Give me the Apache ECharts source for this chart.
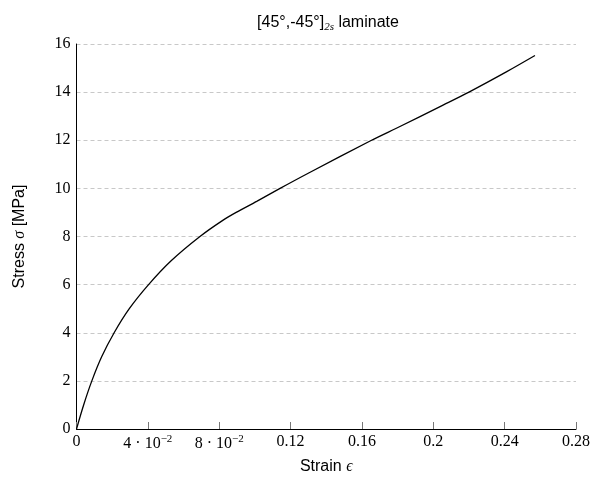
<!DOCTYPE html>
<html>
<head>
<meta charset="utf-8">
<script src="https://cdn.jsdelivr.net/npm/echarts@6/dist/echarts.min.js"></script>
<style>
  html, body { margin: 0; padding: 0; background: #fff; }
  #chart { width: 591px; height: 480px; }
</style>
</head>
<body>
<div id="chart"></div>
<script>
// Stress–strain response of a [45°,-45°]2s laminate
const strain = [0, 0.0040, 0.0086, 0.0141, 0.0211, 0.0296, 0.0404, 0.0532, 0.0692, 0.0822,
                0.0895, 0.1010, 0.1141, 0.1299, 0.1654, 0.1813, 0.2038, 0.2200, 0.2412, 0.2570];
const stress = [0, 1.0, 2, 3, 4, 5, 6, 7, 8, 8.68,
                9, 9.46, 10, 10.63, 12, 12.57, 13.40, 14, 14.85, 15.52];

// Axis tick labels (rich-text markup for the exponent notation)
const xTickLabels = ['0', '{m|4 · 10}{sup|−2}', '{m|8 · 10}{sup|−2}', '0.12', '0.16', '0.2', '0.24', '0.28'];
const yTickLabels = ['0', '2', '4', '6', '8', '10', '12', '14', '16'];

const serif = "'Liberation Serif', 'DejaVu Serif', serif";
const sans = "'Liberation Sans', Arial, sans-serif";

const chart = echarts.init(document.getElementById('chart'), null, { renderer: 'canvas' });

chart.setOption({
  animation: false,
  backgroundColor: '#ffffff',
  title: {
    text: '[45°,-45°]{sub|2s} laminate',
    left: 323,
    textAlign: 'center',
    top: 8,
    textStyle: {
      fontFamily: sans,
      fontSize: 16,
      fontWeight: 'normal',
      color: '#000',
      rich: {
        sub: { fontFamily: serif, fontStyle: 'italic', fontSize: 11, verticalAlign: 'bottom', padding: [9, 0, 0, 0] }
      }
    }
  },
  grid: { left: 76.5, right: 15, top: 44, bottom: 51, containLabel: false, outerBoundsMode: 'none' },
  xAxis: {
    type: 'value',
    min: 0,
    max: 0.28,
    interval: 0.04,
    name: 'Strain {e|ϵ}',
    nameLocation: 'middle',
    nameGap: 30,
    nameTextStyle: {
      fontFamily: sans, fontSize: 16, color: '#000',
      rich: { e: { fontFamily: serif, fontStyle: 'italic', fontSize: 16 } }
    },
    axisLine: { show: true, lineStyle: { color: '#000', width: 1 } },
    axisTick: { show: true, inside: true, length: 7, lineStyle: { color: '#777', width: 1 } },
    splitLine: { show: false },
    axisLabel: {
      margin: 5,
      fontFamily: serif,
      fontSize: 16,
      color: '#000',
      showMaxLabel: true,
      hideOverlap: false,
      formatter: function (v, i) { return xTickLabels[i]; },
      rich: {
        m: { fontFamily: serif, fontSize: 16, color: '#000' },
        sup: { fontFamily: serif, fontSize: 11, color: '#000', verticalAlign: 'top', padding: [0, 0, 8, 0] }
      }
    }
  },
  yAxis: {
    type: 'value',
    min: 0,
    max: 16,
    interval: 2,
    name: 'Stress {s|σ} [MPa]',
    nameLocation: 'middle',
    nameRotate: 90,
    nameGap: 49,
    nameTextStyle: {
      fontFamily: sans, fontSize: 16, color: '#000',
      rich: { s: { fontFamily: serif, fontStyle: 'italic', fontSize: 16 } }
    },
    axisLine: { show: true, lineStyle: { color: '#000', width: 1 } },
    axisTick: { show: false },
    splitLine: { show: true, lineStyle: { color: '#c8c8c8', width: 1, type: [4, 3] } },
    axisLabel: {
      margin: 6,
      fontFamily: serif,
      fontSize: 16,
      color: '#000',
      formatter: function (v, i) { return yTickLabels[i]; }
    }
  },
  series: [{
    type: 'line',
    data: strain.map((s, i) => [s, stress[i]]),
    smooth: 0.3,
    showSymbol: false,
    lineStyle: { color: '#000', width: 1.3 },
    clip: false
  }]
});
</script>
</body>
</html>
